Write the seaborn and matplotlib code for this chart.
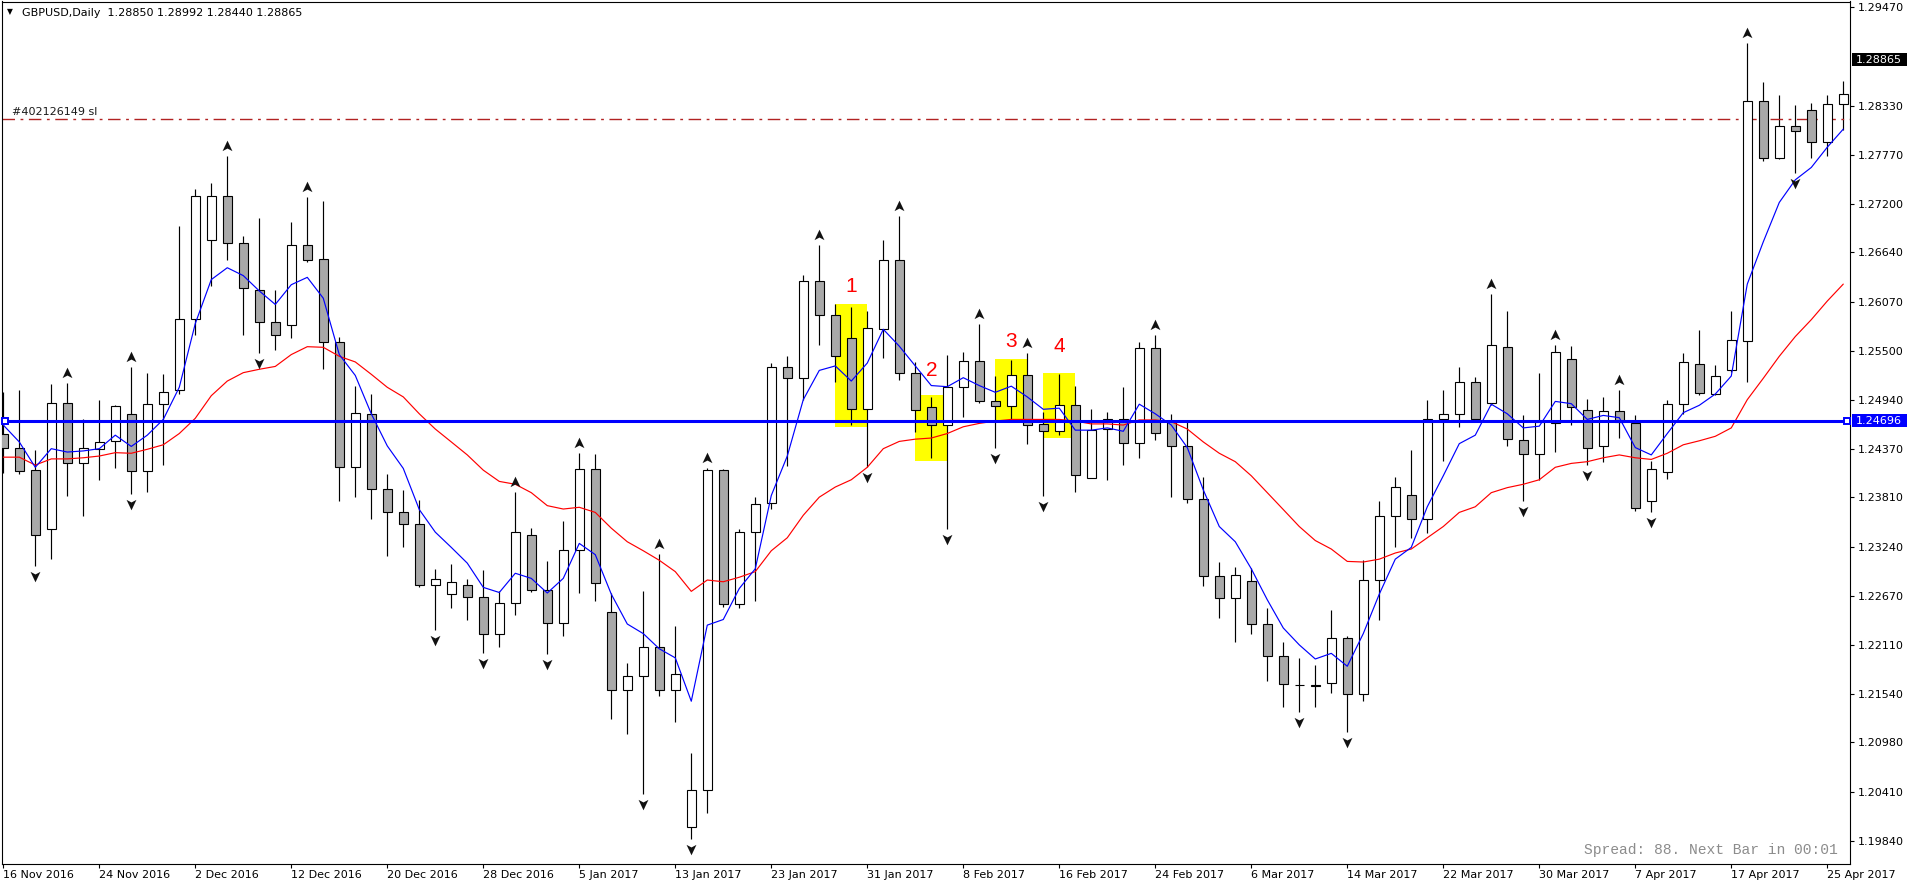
import numpy as np
import matplotlib
matplotlib.use("Agg")
import matplotlib.pyplot as plt
import matplotlib.transforms as mtransforms
from matplotlib.patches import Rectangle
from matplotlib.path import Path
import seaborn as sns

# ---------------- data ----------------
opens = [1.24548, 1.24386, 1.24125, 1.23442, 1.24900, 1.24210, 1.24373, 1.24464, 1.24776, 1.24119,
         1.24887, 1.25050, 1.25870, 1.26788, 1.27295, 1.26749, 1.26208, 1.25831, 1.25805, 1.26729,
         1.26566, 1.25603, 1.24158, 1.24776, 1.23910, 1.23637, 1.23500, 1.22804, 1.22693, 1.22804,
         1.22660, 1.22231, 1.22595, 1.23376, 1.22738, 1.22354, 1.23207, 1.24138, 1.22485, 1.21586,
         1.21749, 1.22088, 1.21586, 1.20004, 1.20434, 1.24125, 1.22576, 1.23416, 1.23748, 1.25316,
         1.25186, 1.26306, 1.25915, 1.25655, 1.24835, 1.25759, 1.26553, 1.25245, 1.24854, 1.24646,
         1.25082, 1.25388, 1.24926, 1.24861, 1.25225, 1.24659, 1.24581, 1.24880, 1.24034, 1.24600,
         1.24711, 1.24438, 1.25538, 1.24692, 1.24405, 1.23793, 1.22908, 1.22653, 1.22849, 1.22348,
         1.21977, 1.21645, 1.21638, 1.21664, 1.22185, 1.21541, 1.22856, 1.23591, 1.23839, 1.23565,
         1.24711, 1.24776, 1.25147, 1.24900, 1.25551, 1.24477, 1.24307, 1.24665, 1.25408, 1.24822,
         1.24399, 1.24809, 1.24665, 1.23773, 1.24106, 1.24887, 1.25349, 1.25004, 1.25284, 1.25622,
         1.28389, 1.27732, 1.28103, 1.28285, 1.27914, 1.28356]
highs = [1.25024, 1.25050, 1.24353, 1.25115, 1.25134, 1.24711, 1.24939, 1.24874, 1.25316, 1.25251,
         1.25232, 1.26950, 1.27367, 1.27445, 1.27751, 1.26827, 1.27042, 1.26202, 1.26996, 1.27282,
         1.27237, 1.25668, 1.25102, 1.25010, 1.24086, 1.23897, 1.23780, 1.22986, 1.23038, 1.22869,
         1.22966, 1.22725, 1.23878, 1.23455, 1.23071, 1.23533, 1.24320, 1.24314, 1.22706, 1.21892,
         1.22725, 1.23162, 1.22322, 1.20857, 1.24145, 1.24138, 1.23442, 1.23813, 1.25362, 1.25440,
         1.26384, 1.26729, 1.26046, 1.26007, 1.25961, 1.26788, 1.27055, 1.25375, 1.24971, 1.25460,
         1.25492, 1.25818, 1.25212, 1.25394, 1.25473, 1.24796, 1.25232, 1.25102, 1.24828, 1.24796,
         1.25082, 1.25609, 1.25688, 1.24776, 1.24692, 1.24041, 1.23064, 1.23005, 1.22999, 1.22530,
         1.22140, 1.21957, 1.21879, 1.22510, 1.22205, 1.23084, 1.23767, 1.24041, 1.24353, 1.24939,
         1.25056, 1.25316, 1.25199, 1.26156, 1.25961, 1.24757, 1.25245, 1.25570, 1.25557, 1.24952,
         1.24971, 1.25056, 1.24763, 1.24236, 1.24939, 1.25473, 1.25740, 1.25342, 1.25961, 1.29053,
         1.28604, 1.28454, 1.28337, 1.28370, 1.28454, 1.28617]
lows = [1.24093, 1.24080, 1.23018, 1.23103, 1.23832, 1.23598, 1.24014, 1.24145, 1.23845, 1.23878,
        1.24184, 1.25004, 1.25688, 1.26254, 1.26547, 1.25688, 1.25473, 1.25512, 1.25655, 1.26527,
        1.25297, 1.23767, 1.23819, 1.23559, 1.23129, 1.23233, 1.22771, 1.22283, 1.22530, 1.22400,
        1.22009, 1.22088, 1.22452, 1.22712, 1.21996, 1.22205, 1.22706, 1.22608, 1.21248, 1.21078,
        1.20382, 1.21521, 1.21215, 1.19861, 1.20167, 1.22543, 1.22530, 1.22608, 1.23682, 1.24177,
        1.24939, 1.25570, 1.25147, 1.24646, 1.24158, 1.25421, 1.25167, 1.24561, 1.24268, 1.23442,
        1.24744, 1.24900, 1.24386, 1.24711, 1.24431, 1.23832, 1.24535, 1.23878, 1.24034, 1.24014,
        1.24184, 1.24268, 1.24477, 1.23819, 1.23748, 1.22791, 1.22413, 1.22140, 1.22237, 1.21684,
        1.21384, 1.21326, 1.21391, 1.21554, 1.21098, 1.21456, 1.22400, 1.23233, 1.23344, 1.23396,
        1.24236, 1.24626, 1.24692, 1.24874, 1.24405, 1.23767, 1.24014, 1.24333, 1.24646, 1.24190,
        1.24223, 1.24496, 1.23650, 1.23637, 1.24027, 1.24776, 1.24991, 1.24991, 1.25264, 1.25147,
        1.27699, 1.27719, 1.27556, 1.27725, 1.27751, 1.28049]
closes = [1.24386, 1.24119, 1.23376, 1.24900, 1.24210, 1.24379, 1.24451, 1.24861, 1.24119, 1.24893,
          1.25030, 1.25870, 1.27295, 1.27295, 1.26749, 1.26228, 1.25831, 1.25681, 1.26729, 1.26553,
          1.25603, 1.24158, 1.24789, 1.23910, 1.23637, 1.23507, 1.22804, 1.22869, 1.22836, 1.22660,
          1.22237, 1.22595, 1.23416, 1.22745, 1.22354, 1.23207, 1.24138, 1.22823, 1.21586, 1.21749,
          1.22088, 1.21586, 1.21775, 1.20427, 1.24125, 1.22576, 1.23416, 1.23735, 1.25316, 1.25186,
          1.26306, 1.25915, 1.25447, 1.24835, 1.25766, 1.26553, 1.25245, 1.24815, 1.24646, 1.25082,
          1.25388, 1.24926, 1.24861, 1.25225, 1.24646, 1.24581, 1.24880, 1.24073, 1.24594, 1.24711,
          1.24438, 1.25538, 1.24555, 1.24405, 1.23793, 1.22908, 1.22647, 1.22914, 1.22348, 1.21977,
          1.21651, 1.21638, 1.21632, 1.22192, 1.21541, 1.22856, 1.23591, 1.23930, 1.23565, 1.24711,
          1.24776, 1.25147, 1.24711, 1.25570, 1.24483, 1.24307, 1.24678, 1.25492, 1.24854, 1.24386,
          1.24809, 1.24678, 1.23689, 1.24138, 1.24887, 1.25375, 1.25017, 1.25212, 1.25629, 1.28389,
          1.27732, 1.28103, 1.28044, 1.27914, 1.28356, 1.28467]
ma_fast = [1.24646, 1.24451, 1.24158, 1.24373, 1.24334, 1.24347, 1.24373, 1.24529, 1.24399, 1.24529,
           1.24711, 1.25082, 1.25818, 1.26326, 1.26463, 1.26372, 1.26195, 1.26039, 1.26267, 1.26352,
           1.26111, 1.25460, 1.25219, 1.24776, 1.24405, 1.24145, 1.23670, 1.23409, 1.23233, 1.23051,
           1.22771, 1.22712, 1.22934, 1.22875, 1.22706, 1.22875, 1.23279, 1.23149, 1.22693, 1.22348,
           1.22237, 1.22062, 1.21957, 1.21456, 1.22335, 1.22400, 1.22758, 1.22986, 1.23832, 1.24288,
           1.24939, 1.25277, 1.25329, 1.25154, 1.25362, 1.25752, 1.25557, 1.25329, 1.25102, 1.25089,
           1.25193, 1.25102, 1.25024, 1.25095, 1.24971, 1.24828, 1.24841, 1.24587, 1.24587, 1.24613,
           1.24574, 1.24887, 1.24776, 1.24646, 1.24386, 1.23897, 1.23474, 1.23298, 1.22986, 1.22628,
           1.22302, 1.22107, 1.21944, 1.22009, 1.21860, 1.22237, 1.22693, 1.23097, 1.23233, 1.23702,
           1.24060, 1.24431, 1.24529, 1.24887, 1.24776, 1.24613, 1.24633, 1.24919, 1.24893, 1.24711,
           1.24757, 1.24731, 1.24386, 1.24301, 1.24548, 1.24789, 1.24874, 1.25004, 1.25212, 1.26274,
           1.26762, 1.27217, 1.27478, 1.27621, 1.27855, 1.28064]
ma_slow = [1.24275, 1.24275, 1.24184, 1.24255, 1.24255, 1.24268, 1.24288, 1.24327, 1.24320, 1.24366,
           1.24418, 1.24548, 1.24724, 1.24985, 1.25154, 1.25251, 1.25290, 1.25323, 1.25460, 1.25551,
           1.25544, 1.25440, 1.25375, 1.25232, 1.25082, 1.24971, 1.24776, 1.24600, 1.24451, 1.24301,
           1.24125, 1.23995, 1.23962, 1.23865, 1.23715, 1.23676, 1.23696, 1.23637, 1.23455, 1.23298,
           1.23194, 1.23084, 1.22953, 1.22725, 1.22856, 1.22836, 1.22888, 1.22953, 1.23194, 1.23344,
           1.23604, 1.23813, 1.23930, 1.24014, 1.24158, 1.24373, 1.24457, 1.24483, 1.24496, 1.24548,
           1.24626, 1.24665, 1.24692, 1.24711, 1.24711, 1.24711, 1.24711, 1.24692, 1.24659, 1.24659,
           1.24646, 1.24705, 1.24705, 1.24685, 1.24600, 1.24451, 1.24320, 1.24223, 1.24060, 1.23865,
           1.23670, 1.23474, 1.23312, 1.23214, 1.23071, 1.23064, 1.23097, 1.23168, 1.23214, 1.23344,
           1.23474, 1.23637, 1.23702, 1.23865, 1.23923, 1.23962, 1.24014, 1.24158, 1.24203, 1.24223,
           1.24268, 1.24301, 1.24268, 1.24249, 1.24320, 1.24418, 1.24464, 1.24516, 1.24613, 1.24939,
           1.25186, 1.25440, 1.25668, 1.25863, 1.26078, 1.26274]
fractal_up = [4, 8, 14, 19, 32, 36, 41, 44, 51, 56, 61, 64, 72, 93, 97, 101, 109]
fractal_down = [2, 8, 16, 27, 30, 34, 40, 43, 54, 59, 62, 65, 81, 84, 95, 99, 103, 112]

date_ticks = [0, 6, 12, 18, 24, 30, 36, 42, 48, 54, 60, 66, 72, 78, 84, 90, 96, 102, 108, 114]
date_labels = ["16 Nov 2016", "24 Nov 2016", "2 Dec 2016", "12 Dec 2016", "20 Dec 2016",
               "28 Dec 2016", "5 Jan 2017", "13 Jan 2017", "23 Jan 2017", "31 Jan 2017",
               "8 Feb 2017", "16 Feb 2017", "24 Feb 2017", "6 Mar 2017", "14 Mar 2017",
               "22 Mar 2017", "30 Mar 2017", "7 Apr 2017", "17 Apr 2017", "25 Apr 2017"]
price_ticks = [1.29470, 1.28330, 1.27770, 1.27200, 1.26640, 1.26070, 1.25500, 1.24940,
               1.24370, 1.23810, 1.23240, 1.22670, 1.22110, 1.21540, 1.20980, 1.20410, 1.19840]
price_tick_labels = ["1.29470", "1.28330", "1.27770", "1.27200", "1.26640", "1.26070", "1.25500",
                     "1.24940", "1.24370", "1.23810", "1.23240", "1.22670", "1.22110", "1.21540",
                     "1.20980", "1.20410", "1.19840"]

zone_start = [52, 57, 62, 65]
zone_end = [54, 59, 64, 67]
zone_low = [1.24626, 1.24236, 1.24665, 1.24496]
zone_high = [1.26046, 1.24991, 1.25408, 1.25252]
zone_labels = ["1", "2", "3", "4"]
zone_label_x = [53, 58, 63, 66]
zone_label_y = [1.26241, 1.25277, 1.25616, 1.25557]

level_price = 1.24696
level_text = "1.24696"
bid_price = 1.28865
bid_text = "1.28865"
sl_price = 1.28185
sl_text = "#402126149 sl"
header_text = "GBPUSD,Daily  1.28850 1.28992 1.28440 1.28865"
status_text = "Spread: 88. Next Bar in 00:01"

# ---------------- figure ----------------
sns.set_style("white")
plt.rcParams['font.family'] = ['DejaVu Sans']

W, H = 1910, 884
fig = plt.figure(figsize=(W / 100, H / 100), dpi=100)
fig.patch.set_facecolor('white')
L, R, T, B = 2.0, 1850.0, 1.5, 864.0
ax = fig.add_axes([L / W, 1 - B / H, (R - L) / W, (B - T) / H])
ax.set_facecolor('white')
ax.set_xlim(-0.08, 115.42)
ax.set_ylim(1.19576, 1.29538)

o = np.array(opens); h = np.array(highs); lo = np.array(lows); c = np.array(closes)
idx = np.arange(len(o))

# yellow zones
for xs, xe, yl, yh in zip(zone_start, zone_end, zone_low, zone_high):
    ax.add_patch(Rectangle((xs, yl), xe - xs, yh - yl, facecolor='#FFFF00',
                           edgecolor='none', zorder=1))

# wicks
ax.vlines(idx, lo, h, color='black', linewidth=0.85, zorder=2)
# bodies
bottoms = np.minimum(o, c)
heights = np.abs(c - o)
colors = np.where(c < o, '#A9A9A9', '#FFFFFF')
ax.bar(idx, heights, bottom=bottoms, width=0.58, color=colors, edgecolor='black',
       linewidth=0.8, zorder=3)

# moving averages
sns.lineplot(x=idx, y=ma_slow, color='#FF0000', linewidth=0.85, ax=ax, zorder=4,
             estimator=None)
sns.lineplot(x=idx, y=ma_fast, color='#0000FF', linewidth=0.85, ax=ax, zorder=4,
             estimator=None)

# horizontal level line
ax.axhline(level_price, color='#0000FF', linewidth=2.2, zorder=5)
bt = mtransforms.blended_transform_factory(ax.transAxes, ax.transData)
ax.plot([0.0016, 0.9984], [level_price, level_price], linestyle='none', marker='s',
        markersize=4.2, markerfacecolor='white', markeredgecolor='#0000FF',
        markeredgewidth=1.4, transform=bt, zorder=6, clip_on=False)

# stop-loss line
ax.axhline(sl_price, color='#B22222', linewidth=1.0, linestyle=(0, (9, 4, 2, 4)), zorder=2)
ax.annotate(sl_text, xy=(0.0055, sl_price), xycoords=bt, xytext=(0, 1.2),
            textcoords='offset points', fontsize=8, color='#1a1a1a', va='bottom', ha='left')

# fractal arrows
up_path = Path([(0, 1), (0.85, -0.8), (0, -0.35), (-0.85, -0.8), (0, 1)],
               [Path.MOVETO, Path.LINETO, Path.LINETO, Path.LINETO, Path.CLOSEPOLY])
down_path = Path([(0, -1), (0.85, 0.8), (0, 0.35), (-0.85, 0.8), (0, -1)],
                 [Path.MOVETO, Path.LINETO, Path.LINETO, Path.LINETO, Path.CLOSEPOLY])
up_tr = ax.transData + mtransforms.ScaledTranslation(0, 10 / 100, fig.dpi_scale_trans)
dn_tr = ax.transData + mtransforms.ScaledTranslation(0, -10 / 100, fig.dpi_scale_trans)
fu = np.array(fractal_up); fd = np.array(fractal_down)
ax.scatter(fu, h[fu], marker=up_path, s=70, color='#111111', linewidths=0, transform=up_tr,
           zorder=6)
ax.scatter(fd, lo[fd], marker=down_path, s=70, color='#111111', linewidths=0, transform=dn_tr,
           zorder=6)

# zone labels
for lx, ly, s in zip(zone_label_x, zone_label_y, zone_labels):
    ax.text(lx, ly, s, color='#FF0000', fontsize=15, ha='center', va='center',
            family=['Liberation Sans', 'DejaVu Sans'], zorder=7)

# axes styling
for sp in ax.spines.values():
    sp.set_visible(True)
    sp.set_color('black')
    sp.set_linewidth(0.8)
ax.set_xlabel('')
ax.set_ylabel('')
ax.yaxis.tick_right()
ax.set_yticks(price_ticks)
ax.set_yticklabels(price_tick_labels)
ax.tick_params(axis='y', right=True, left=False, length=3, width=0.8, pad=2.5,
               labelsize=8, direction='out', colors='black')
ax.set_xticks(date_ticks)
ax.set_xticklabels(date_labels, ha='left')
ax.tick_params(axis='x', bottom=True, length=3, width=0.8, pad=1, labelsize=8,
               direction='out', colors='black')
ax.grid(False)

# price boxes on the right scale
yr = ax.get_ylim()
ppx = (yr[1] - yr[0]) / (B - T)
ft = mtransforms.blended_transform_factory(fig.transFigure, ax.transData)
for price, txt, col in [(bid_price, bid_text, 'black'), (level_price, level_text, '#0000FF')]:
    ax.add_patch(Rectangle((1852 / W, price - 6.5 * ppx), 55 / W, 13 * ppx, transform=ft,
                           facecolor=col, edgecolor='none', clip_on=False, zorder=10))
    ax.text(1856 / W, price, txt, transform=ft, color='white', fontsize=8, va='center',
            ha='left', clip_on=False, zorder=11)

# header and status texts
fig.text(7 / W, 1 - 11.5 / H, '\u25BC', fontsize=5.5, va='center', ha='left', color='black')
fig.text(22 / W, 1 - 13 / H, header_text, fontsize=8, va='center', ha='left', color='black')
fig.text(1838 / W, 1 - 850 / H, status_text, family=['Liberation Mono', 'DejaVu Sans Mono'],
         fontsize=10.5, color='#8C8C8C', ha='right', va='center')

fig.savefig('out.png', dpi=100, facecolor='white')
